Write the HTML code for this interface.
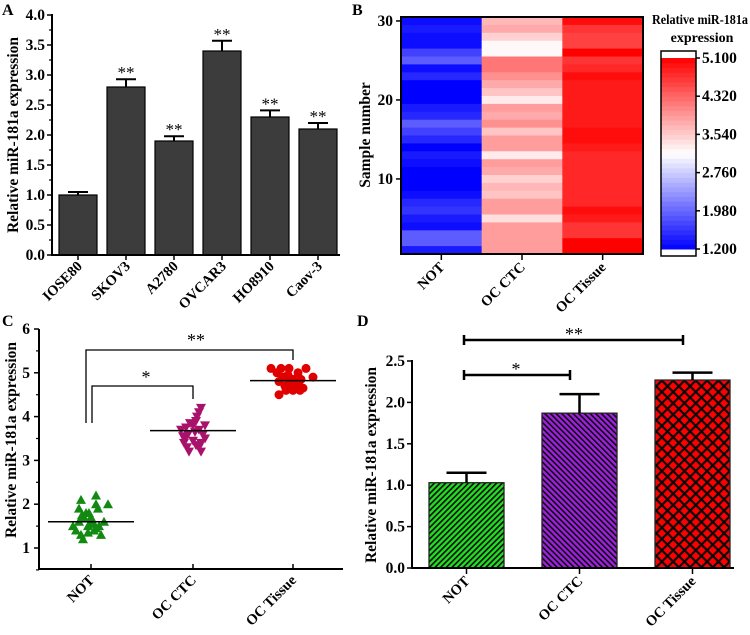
<!DOCTYPE html>
<html><head><meta charset="utf-8">
<style>
html,body{margin:0;padding:0;background:#fff;}
svg{display:block;font-family:"Liberation Serif",serif;font-weight:bold;}
</style></head>
<body>
<svg id="fig" width="750" height="635" viewBox="0 0 750 635" xmlns="http://www.w3.org/2000/svg">
<defs>
<pattern id="hatchG" patternUnits="userSpaceOnUse" width="4" height="4" patternTransform="rotate(45)">
<rect width="4" height="4" fill="#22dd22"/><rect width="1.6" height="4" fill="#0a0a0a"/></pattern>
<pattern id="hatchP" patternUnits="userSpaceOnUse" width="4" height="4" patternTransform="rotate(-45)">
<rect width="4" height="4" fill="#a020e0"/><rect width="1.6" height="4" fill="#0a0a0a"/></pattern>
<pattern id="hatchR" patternUnits="userSpaceOnUse" width="8" height="8" patternTransform="rotate(45)">
<rect width="8" height="8" fill="#ff0000"/><rect width="2.2" height="8" fill="#0a0a0a"/><rect width="8" height="2.2" fill="#0a0a0a"/></pattern>
</defs>
<g id="pA"></g>
<g id="pB"></g>
<g id="pC"></g>
<g id="pD"></g>
</svg>
<script>
// ---- Panel A data ----
const aCats = ["IOSE80","SKOV3","A2780","OVCAR3","HO8910","Caov-3"];
const aVals = [1.0,2.8,1.9,3.4,2.3,2.1];
const aErr = [0.05,0.13,0.08,0.17,0.11,0.10];
const aTicks = ["0.0","0.5","1.0","1.5","2.0","2.5","3.0","3.5","4.0"];
// ---- Panel B data (sample 30 at top -> sample 1 at bottom) ----
const bCats = ["NOT","OC CTC","OC Tissue"];
const bNOT = [1.3,1.4,1.3,1.3,1.7,1.9,1.3,1.5,1.2,1.2,1.2,1.4,1.5,1.9,1.7,1.5,1.2,1.4,1.3,1.2,1.2,1.2,1.3,1.5,1.6,1.4,1.3,1.9,1.9,1.4];
const bCTC = [3.7,3.8,3.5,3.2,3.2,4.2,4.2,4.0,3.8,3.6,3.3,3.9,3.8,4.0,3.6,3.9,3.9,3.3,3.9,3.8,3.5,3.7,3.6,3.9,3.9,3.4,3.9,3.9,3.9,3.9];
const bTIS = [5.0,4.7,4.6,4.6,5.1,4.7,4.8,5.0,4.9,4.9,4.9,4.9,4.9,4.9,5.0,5.0,4.9,4.8,4.8,4.8,4.8,4.8,4.8,4.8,5.0,4.9,4.7,4.7,5.1,5.1];
const bYTicks = [10,20,30];
const cbTicks = ["1.200","1.980","2.760","3.540","4.320","5.100"];
// ---- Panel C data ----
const cCats = ["NOT","OC CTC","OC Tissue"];
const cNOT = [2.2,2.1,2.0,2.0,1.9,1.9,1.8,1.8,1.75,1.7,1.7,1.6,1.6,1.6,1.55,1.5,1.5,1.5,1.45,1.4,1.4,1.35,1.3,1.3,1.2];
const cNOTjit = [0.05,-0.1,0.17,0.05,-0.12,0.07,-0.05,-0.02,-0.09,0.0,-0.07,-0.12,0.0,0.13,0.03,-0.18,0.08,-0.03,0.05,-0.15,0.03,-0.03,-0.1,0.1,-0.08];
const cCTC = [4.2,4.1,4.0,3.9,3.85,3.8,3.8,3.75,3.7,3.7,3.65,3.6,3.6,3.55,3.5,3.5,3.45,3.4,3.4,3.35,3.3,3.3,3.2,3.2];
const cCTCjit = [0.08,0.06,0.04,0.03,-0.03,0.0,0.12,-0.07,-0.12,0.06,0.02,-0.05,0.1,-0.1,-0.08,0.12,0.0,-0.09,0.08,0.03,-0.06,0.06,-0.04,0.08];
const cTIS = [5.1,5.1,5.1,5.1,5.0,5.0,4.95,4.9,4.9,4.85,4.85,4.8,4.8,4.8,4.75,4.7,4.7,4.65,4.6,4.6,4.6,4.5];
const cTISjit = [-0.22,-0.12,-0.04,0.13,-0.16,0.05,-0.05,0.2,-0.1,0.0,0.08,-0.14,-0.04,0.06,-0.02,-0.08,0.03,0.1,-0.07,0.0,0.07,-0.14];
const cMeans = [1.6,3.68,4.82];
const cTicks = [1,2,3,4,5,6];
// ---- Panel D data ----
const dCats = ["NOT","OC CTC","OC Tissue"];
const dVals = [1.03,1.87,2.27];
const dErr = [0.12,0.23,0.09];
const dTicks = ["0.0","0.5","1.0","1.5","2.0","2.5"];

const NS="http://www.w3.org/2000/svg";
const TICK=15.5, XLAB=14.5, TITLE=15.5;
function mk(parent,tag,attrs,text){const e=document.createElementNS(NS,tag);for(const k in attrs)e.setAttribute(k,attrs[k]);if(text!==undefined)e.textContent=text;parent.appendChild(e);return e;}
function line(p,x1,y1,x2,y2,w,c){return mk(p,'line',{x1,y1,x2,y2,stroke:c||'#000','stroke-width':w||1.5});}
function rotLabel(p,x,y,t,size){const e=mk(p,'text',{x:x,y:y,'text-anchor':'end','font-size':size||XLAB,transform:`rotate(-45 ${x} ${y})`},t);return e;}

// ===== Panel A =====
(function(){
const g=document.getElementById('pA');
const x0=52,xEnd=340,y0=255,ppu=60;
const ys=v=>y0-v*ppu;
const lab=mk(g,'text',{x:2,y:15,'font-size':16},'A');

aTicks.forEach((t,i)=>{const v=parseFloat(t);line(g,x0-5,ys(v),x0,ys(v),1.5);
 const tx=mk(g,'text',{x:x0-7,y:ys(v)+5,'text-anchor':'end','font-size':TICK},t);
 
 if(i<aTicks.length-1){line(g,x0-3,ys(v+0.25),x0,ys(v+0.25),1.2);}});
const bw=38,step=48,first=59;
aCats.forEach((c,i)=>{const x=first+i*step;const top=ys(aVals[i]);
 const r=mk(g,'rect',{x:x,y:top,width:bw,height:y0-top,fill:'#3c3c3c',stroke:'#000','stroke-width':1.2});
 
 const cx=x+bw/2,et=ys(aVals[i]+aErr[i]);
 line(g,cx,top,cx,et,2);line(g,cx-10,et,cx+10,et,2);
 if(i>0){const s=mk(g,'text',{x:cx,y:et-1,'text-anchor':'middle','font-size':17,'font-weight':'normal'},'**');
  }
 line(g,cx,y0,cx,y0+5,1.5);
 const l=rotLabel(g,cx+5,y0+12,c);
});
line(g,x0,14,x0,y0+1,2);line(g,x0,y0,xEnd,y0,2);
const yt=mk(g,'text',{x:18,y:135,'text-anchor':'middle','font-size':TITLE,transform:'rotate(-90 18 135)'},'Relative miR-181a expression');

})();

// ===== Panel B =====
function cmap(v){const lo=1.2,mid=3.15,hi=5.1;let r,g,b;
 if(v<=mid){const t=Math.max(0,(v-lo)/(mid-lo));r=Math.round(255*t);g=Math.round(255*t);b=255;}
 else{const t=Math.min(1,(v-mid)/(hi-mid));r=255;g=Math.round(255*(1-t));b=Math.round(255*(1-t));}
 return `rgb(${r},${g},${b})`;}
(function(){
const g=document.getElementById('pB');
const x0=401,x1=643,yTop=17,yBot=254;
const lab=mk(g,'text',{x:352,y:15,'font-size':16},'B');

const n=bNOT.length,rh=(yBot-yTop)/n,cw=(x1-x0)/3;
[bNOT,bCTC,bTIS].forEach((col,ci)=>{col.forEach((v,ri)=>{
 const r=mk(g,'rect',{x:x0+ci*cw,y:yTop+ri*rh,width:cw+0.5,height:rh+0.5,fill:cmap(v)});
 });
 const cx=x0+(ci+0.5)*cw;line(g,cx,yBot,cx,yBot+6,1.5);
 const l=rotLabel(g,cx+4,yBot+14,bCats[ci]);});
mk(g,'rect',{x:x0,y:yTop,width:x1-x0,height:yBot-yTop,fill:'none',stroke:'#000','stroke-width':2});
const sy=s=>yBot-(s-0.5)*rh;
bYTicks.forEach(t=>{line(g,x0-5,sy(t),x0,sy(t),1.5);
 const tx=mk(g,'text',{x:x0-8,y:sy(t)+5,'text-anchor':'end','font-size':TICK},String(t));
 });
const yt=mk(g,'text',{x:370,y:135,'text-anchor':'middle','font-size':TITLE,transform:'rotate(-90 370 135)'},'Sample number');

// colorbar
const cbx=661,cbw=35,cbt=51,cbb=256,vTop=58,vBot=249;
mk(g,'rect',{x:cbx,y:cbt,width:cbw,height:cbb-cbt,fill:'#fff'});
const steps=40;
for(let i=0;i<steps;i++){const v=1.2+(5.1-1.2)*(i+0.5)/steps;const y=vBot-(i+1)*(vBot-vTop)/steps;
 const r=mk(g,'rect',{x:cbx,y:y,width:cbw,height:(vBot-vTop)/steps+0.5,fill:cmap(v)});
 }
mk(g,'rect',{x:cbx,y:cbt,width:cbw,height:cbb-cbt,fill:'none',stroke:'#000','stroke-width':1.5});
cbTicks.forEach(t=>{const v=parseFloat(t);const y=vBot-(v-1.2)/(5.1-1.2)*(vBot-vTop);
 line(g,cbx+cbw,y,cbx+cbw+4,y,1.5);
 const tx=mk(g,'text',{x:cbx+cbw+6,y:y+5,'font-size':TICK},t);
 });
const t1=mk(g,'text',{x:700,y:24,'text-anchor':'middle','font-size':13.5,textLength:96,lengthAdjust:'spacingAndGlyphs'},'Relative miR-181a');

const t2=mk(g,'text',{x:702,y:42,'text-anchor':'middle','font-size':14},'expression');

})();

// ===== Panel C =====
(function(){
const g=document.getElementById('pC');
const x0=39,xEnd=343,yBase=569,y1=548,ppu=43.8;
const ys=v=>y1-(v-1)*ppu;
const catX=[91,193,293],catW=100;
const xs=(ci,j)=>catX[ci]+j*catW;
const lab=mk(g,'text',{x:2,y:326,'font-size':16},'C');

cTicks.forEach(t=>{line(g,x0-5,ys(t),x0,ys(t),1.5);line(g,x0-3,ys(t-0.5),x0,ys(t-0.5),1.2);
 const tx=mk(g,'text',{x:x0-9,y:ys(t)+5,'text-anchor':'end','font-size':TICK},String(t));
 });
line(g,x0,ys(6),x0,yBase,2);line(g,x0-1,yBase,xEnd,yBase,2);
const yt=mk(g,'text',{x:16,y:440,'text-anchor':'middle','font-size':TITLE,transform:'rotate(-90 16 440)'},'Relative miR-181a expression');

cCats.forEach((c,i)=>{line(g,catX[i],yBase,catX[i],yBase-5,1.5);
 const l=rotLabel(g,catX[i]+4,yBase+12,c);});
cNOT.forEach((v,i)=>{const x=xs(0,cNOTjit[i]),y=ys(v);
 const p=mk(g,'path',{d:`M${x},${y-5}L${x+5},${y+4}L${x-5},${y+4}Z`,fill:'#128a12'});
 });
cCTC.forEach((v,i)=>{const x=xs(1,cCTCjit[i]),y=ys(v);
 const p=mk(g,'path',{d:`M${x-5},${y-4}L${x+5},${y-4}L${x},${y+5}Z`,fill:'#a8126a'});
 });
cTIS.forEach((v,i)=>{const x=xs(2,cTISjit[i]),y=ys(v);
 const p=mk(g,'circle',{cx:x,cy:y,r:4.5,fill:'#e00000'});
 });
cMeans.forEach((m,i)=>{const l=line(g,catX[i]-43,ys(m),catX[i]+43,ys(m),1.5);
 });
const b1=mk(g,'path',{d:`M86,423L86,350L293,350L293,360`,fill:'none',stroke:'#000','stroke-width':1.3});

const b2=mk(g,'path',{d:`M92,423L92,386L193,386L193,399`,fill:'none',stroke:'#000','stroke-width':1.3});

const s1=mk(g,'text',{x:196,y:346,'text-anchor':'middle','font-size':18,'font-weight':'normal'},'**');

const s2=mk(g,'text',{x:146,y:383,'text-anchor':'middle','font-size':18,'font-weight':'normal'},'*');

})();

// ===== Panel D =====
(function(){
const g=document.getElementById('pD');
const x0=412,xEnd=734,y0=568,ppu=82.8;
const ys=v=>y0-v*ppu;
const lab=mk(g,'text',{x:357,y:326,'font-size':16},'D');

dTicks.forEach(t=>{const v=parseFloat(t);line(g,x0-5,ys(v),x0,ys(v),1.5);
 const tx=mk(g,'text',{x:x0-7,y:ys(v)+5,'text-anchor':'end','font-size':TICK},t);
 });
const fills=['url(#hatchG)','url(#hatchP)','url(#hatchR)'];
const firstX=429,step=113,bw=75;
dCats.forEach((c,i)=>{const x=firstX+i*step,top=ys(dVals[i]);
 const r=mk(g,'rect',{x:x,y:top,width:bw,height:y0-top,fill:fills[i],stroke:'#222','stroke-width':1.3});
 
 const cx=x+bw/2,et=ys(dVals[i]+dErr[i]);
 line(g,cx,top,cx,et,2.5);line(g,cx-20,et,cx+20,et,2.5);
 line(g,cx,y0,cx,y0+6,1.5);
 const l=rotLabel(g,cx+4,y0+14,c);});
line(g,x0,ys(2.5)-1,x0,y0+1,2);line(g,x0,y0,xEnd,y0,2);
const yt=mk(g,'text',{x:376,y:465,'text-anchor':'middle','font-size':TITLE,transform:'rotate(-90 376 465)'},'Relative miR-181a expression');

function br(xa,xb,y){const p=mk(g,'path',{d:`M${xa},${y-5}L${xa},${y+5}M${xa},${y}L${xb},${y}M${xb},${y-5}L${xb},${y+5}`,fill:'none',stroke:'#000','stroke-width':2.5});
 }
br(464,683,340);br(464,570,375);
const s1=mk(g,'text',{x:574,y:340,'text-anchor':'middle','font-size':18,'font-weight':'normal'},'**');

const s2=mk(g,'text',{x:516,y:375,'text-anchor':'middle','font-size':18,'font-weight':'normal'},'*');

})();
</script>
</body></html>
